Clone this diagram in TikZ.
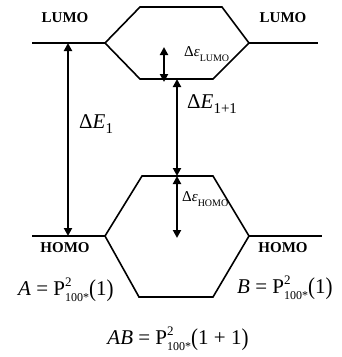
\documentclass[tikz,border=0pt]{standalone}
\usepackage{fontspec}
\setmainfont{Liberation Serif}
\usetikzlibrary{arrows.meta}
\newcommand{\Pnot}[2]{P\rlap{\raisebox{0.42em}{\fontsize{13}{13}\selectfont #2}}\raisebox{-0.28em}{\fontsize{12}{12}\selectfont #1}}
\newcommand{\bigpar}[1]{\raisebox{-0.05em}{\scalebox{1}[1.15]{(}}#1\raisebox{-0.05em}{\scalebox{1}[1.15]{)}}}
\begin{document}
\begin{tikzpicture}[x=1pt,y=-1pt,
  level/.style={line width=1.8pt},
  hexline/.style={line width=1.6pt, line join=miter},
  gap/.style={line width=2pt, {Triangle[length=8pt,width=8pt]}-{Triangle[length=8pt,width=8pt]}},
  orb/.style={font=\fontsize{15}{15}\selectfont\bfseries, inner sep=0pt},
  big/.style={font=\fontsize{21}{21}\selectfont, inner sep=0pt},
  small/.style={font=\fontsize{15}{15}\selectfont, inner sep=0pt}]
\useasboundingbox (0,0) rectangle (341,357);
% top hexagon
\coordinate (tL) at (105,43);
\coordinate (tTL) at (140,7);
\coordinate (tTR) at (222,7);
\coordinate (tR) at (249,43);
\coordinate (tBR) at (213,79);
\coordinate (tBL) at (140,79);
% bottom hexagon
\coordinate (bL) at (105,236);
\coordinate (bTL) at (142,176);
\coordinate (bTR) at (213,176);
\coordinate (bR) at (249,236);
\coordinate (bBR) at (213,297);
\coordinate (bBL) at (139,297);
% level line ends
\coordinate (lumoLa) at (32,43);
\coordinate (lumoRb) at (318,43);
\coordinate (homoLa) at (32,236);
\coordinate (homoRb) at (322,236);
\draw[hexline] (tL) -- (tTL) -- (tTR) -- (tR) -- (tBR) -- (tBL) -- cycle;
\draw[hexline] (bL) -- (bTL) -- (bTR) -- (bR) -- (bBR) -- (bBL) -- cycle;
\draw[level] (lumoLa) -- (tL);
\draw[level] (tR) -- (lumoRb);
\draw[level] (homoLa) -- (bL);
\draw[level] (bR) -- (homoRb);
% arrows
\coordinate (e1a) at (68,43);
\coordinate (e1b) at (68,236);
\coordinate (ela) at (164,47);
\coordinate (elb) at (164,82);
\coordinate (e11a) at (177,79);
\coordinate (e11b) at (177,176);
\coordinate (eha) at (177,176);
\coordinate (ehb) at (177,238);
\draw[gap] (e1a) -- (e1b);
\draw[gap] (ela) -- (elb);
\draw[gap] (e11a) -- (e11b);
\draw[gap] (eha) -- (ehb);
% labels
\node[orb] (lumoL) at (65,18) {LUMO};
\node[orb] (lumoR) at (283,18) {LUMO};
\node[orb] (homoL) at (65,248) {HOMO};
\node[orb] (homoR) at (283,248) {HOMO};
\node[big, anchor=west] (dE1) at (79,124) {Δ\textit{E}\raisebox{-0.25em}{\fontsize{15}{15}\selectfont 1}};
\node[big, anchor=west] (dE11) at (187,104) {Δ\textit{E}\raisebox{-0.25em}{\fontsize{15}{15}\selectfont 1+1}};
\node[small, anchor=west] (deL) at (184,54) {Δ\textit{ε}\raisebox{-0.3em}{\fontsize{10}{10}\selectfont LUMO}};
\node[small, anchor=west] (deH) at (182,199) {Δ\textit{ε}\raisebox{-0.3em}{\fontsize{10}{10}\selectfont HOMO}};
\node[big, anchor=west] (A) at (18,290) {\textit{A} = \Pnot{100*}{2}\bigpar{1}};
\node[big, anchor=west] (B) at (237,288) {\textit{B} = \Pnot{100*}{2}\bigpar{1}};
\node[big] (AB) at (178,339) {\textit{AB} = \Pnot{100*}{2}\bigpar{1 + 1}};
\end{tikzpicture}
\end{document}
